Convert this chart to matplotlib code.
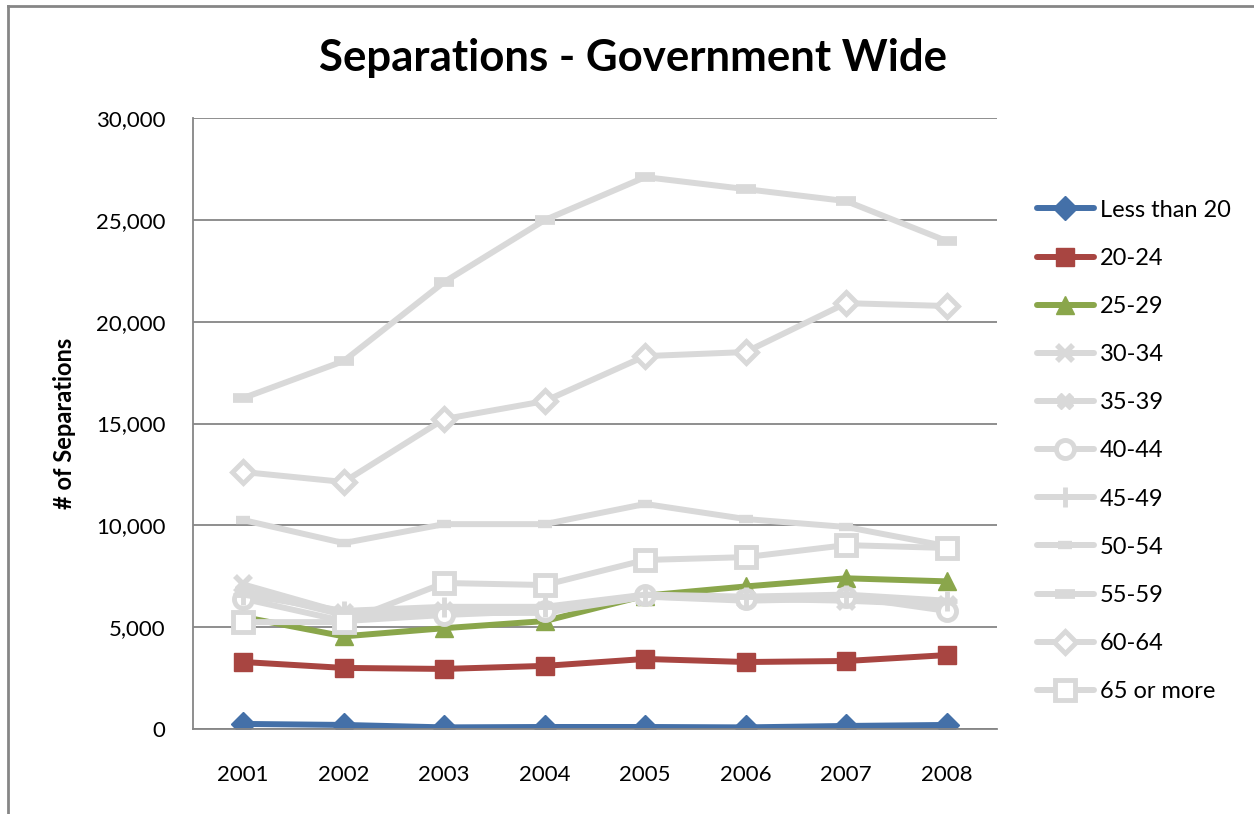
import matplotlib.pyplot as plt
from matplotlib.lines import Line2D

plt.rcParams['font.family'] = ['Lato', 'DejaVu Sans']

# data
years = ['2001', '2002', '2003', '2004', '2005', '2006', '2007', '2008']
less_than_20 = [250, 200, 80, 100, 100, 80, 150, 200]
age_20_24 = [3290, 3000, 2950, 3100, 3440, 3290, 3340, 3630]
age_25_29 = [5500, 4550, 4950, 5300, 6550, 7000, 7400, 7250]
age_30_34 = [7100, 5700, 5800, 5800, 6500, 6400, 6300, 6100]
age_35_39 = [6800, 5600, 5700, 5700, 6500, 6300, 6400, 6000]
age_40_44 = [6400, 5300, 5600, 5800, 6600, 6400, 6500, 5800]
age_45_49 = [6600, 5800, 6000, 6000, 6600, 6500, 6600, 6300]
age_50_54 = [10260, 9130, 10060, 10060, 11050, 10310, 9920, 8980]
age_55_59 = [16250, 18070, 21950, 24990, 27100, 26510, 25920, 23960]
age_60_64 = [12620, 12130, 15220, 16100, 18310, 18510, 20910, 20770]
age_65_plus = [5250, 5250, 7170, 7070, 8300, 8440, 9030, 8890]

labels = ['Less than 20', '20-24', '25-29', '30-34', '35-39', '40-44',
          '45-49', '50-54', '55-59', '60-64', '65 or more']
series = [less_than_20, age_20_24, age_25_29, age_30_34, age_35_39, age_40_44,
          age_45_49, age_50_54, age_55_59, age_60_64, age_65_plus]

gray = '#d9d9d9'
styles = [
    dict(color='#4470a8', marker='D', ms=12, mfc='#4470a8', mec='#4470a8'),
    dict(color='#a84541', marker='s', ms=13, mfc='#a84541', mec='#a84541'),
    dict(color='#8aa64b', marker='^', ms=13, mfc='#8aa64b', mec='#8aa64b'),
    dict(color=gray, marker='x', ms=12, mew=4, mec=gray),
    dict(color=gray, marker='X', ms=12, mfc=gray, mec=gray),
    dict(color=gray, marker='o', ms=13, mfc='white', mec=gray, mew=3.5),
    dict(color=gray, marker='+', ms=14, mew=3.5, mec=gray),
    dict(color=gray, marker='_', ms=10, mew=6, mec=gray),
    dict(color=gray, marker='_', ms=14, mew=7, mec=gray),
    dict(color=gray, marker='D', ms=11, mfc='white', mec=gray, mew=3.5),
    dict(color=gray, marker='s', ms=14, mfc='white', mec=gray, mew=3.5),
]

fig = plt.figure(figsize=(12.54, 8.14), dpi=100)
ax = fig.add_axes([0.1539, 0.1044, 0.6411, 0.7506])

x = list(range(len(years)))
handles = []
for vals, lab, st in zip(series, labels, styles):
    ln, = ax.plot(x, vals, lw=4.3, label=lab, solid_capstyle='round', **st)
    handles.append(ln)

ax.set_xlim(-0.5, len(years) - 0.5)
ax.set_ylim(0, 30000)
ax.set_yticks(range(0, 30001, 5000))
ax.set_yticklabels([f'{v:,}' for v in range(0, 30001, 5000)])
ax.set_xticks(x)
ax.set_xticklabels(years)
ax.tick_params(length=0, labelsize=16)
ax.tick_params(axis='x', pad=26)
ax.tick_params(axis='y', pad=20)

ax.grid(axis='y', color='#868686', lw=1.3)
ax.set_axisbelow(True)
for s in ['top', 'right']:
    ax.spines[s].set_visible(False)
for s in ['left', 'bottom']:
    ax.spines[s].set_color('#868686')
    ax.spines[s].set_linewidth(1.3)

ax.set_ylabel('# of Separations', fontsize=17, fontweight='bold', labelpad=14)
fig.text(0.505, 0.929, 'Separations - Government Wide', ha='center', va='center',
         fontsize=31.5, fontweight='bold')

ax.legend(handles=handles, loc='center left', bbox_to_anchor=(0.827, 0.446),
          bbox_transform=fig.transFigure, frameon=False, fontsize=17,
          handlelength=2.4, labelspacing=1.15, handletextpad=0.25,
          borderpad=0, borderaxespad=0)

# outer chart frame (left and top edges visible)
fig.add_artist(Line2D([0.0065, 0.0065], [0.0, 0.993], color='#868686', lw=2,
                      transform=fig.transFigure))
fig.add_artist(Line2D([0.0065, 1.0], [0.993, 0.993], color='#868686', lw=2,
                      transform=fig.transFigure))

fig.savefig('out.png', dpi=100)
